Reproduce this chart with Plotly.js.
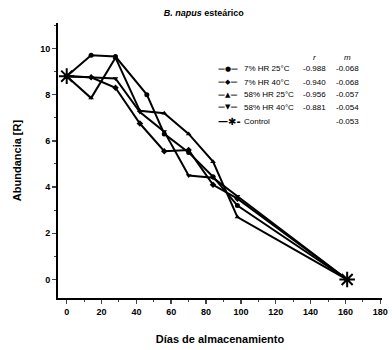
<!DOCTYPE html>
<html><head><meta charset="utf-8">
<script src="https://cdn.plot.ly/plotly-3.0.1.min.js"></script>
<style>html,body{margin:0;padding:0;background:#fff}#c{width:392px;height:350px}</style>
</head><body><div id="c"></div>
<script>
// Data
const seriesNames = ["7% HR 25°C", "7% HR 40°C", "58% HR 25°C", "58% HR 40°C", "Control"];
const days1 = [0, 14, 28, 46, 56, 70, 84, 98, 161];
const vals1 = [8.8, 9.7, 9.65, 8.0, 6.3, 5.5, 4.45, 3.2, 0];
const days2 = [0, 14, 28, 42, 56, 70, 84, 98, 161];
const vals2 = [8.8, 8.75, 8.3, 6.75, 5.55, 5.6, 4.1, 3.5, 0];
const days3 = [0, 14, 28, 42, 56, 70, 84, 98, 161];
const vals3 = [8.8, 7.85, 9.6, 7.3, 7.2, 6.3, 5.1, 2.7, 0];
const days4 = [0, 14, 28, 42, 56, 70, 84, 98, 161];
const vals4 = [8.8, 8.75, 8.7, 7.25, 6.4, 4.5, 4.4, 3.6, 0];
const controlDays = [0, 161];
const controlVals = [8.8, 0];
const rValues = ["-0.988", "-0.940", "-0.956", "-0.881", ""];
const mValues = ["-0.068", "-0.068", "-0.057", "-0.054", "-0.053"];
const xTicks = [0, 20, 40, 60, 80, 100, 120, 140, 160, 180];
const yTicks = [0, 2, 4, 6, 8, 10];

const symbols = ["circle", "diamond", "triangle-up", "triangle-down"];
const keyGlyphs = ["—●—", "—◆—", "—▲—", "—▼—", "—✱-"];
const allDays = [days1, days2, days3, days4];
const allVals = [vals1, vals2, vals3, vals4];
const font = "Liberation Sans, Arial, sans-serif";

const traces = allDays.map((d, i) => ({
  x: d, y: allVals[i], name: seriesNames[i], type: "scatter", mode: "lines+markers",
  line: {color: "#000", width: 2}, marker: {symbol: symbols[i], size: 5, color: "#000"}
}));
traces.push({
  x: controlDays, y: controlVals, name: seriesNames[4], type: "scatter", mode: "markers",
  marker: {symbol: "asterisk-open", size: 13, color: "#000", line: {color: "#000", width: 2}}
});

// legend built as text (rows 13px apart as in the reference); paper coords for a 324px-wide plot
const W = 324, L = 58;
const px = p => (p - L) / W;
const rowY = [0.833, 0.785, 0.739, 0.693, 0.643];
const annotations = [
  {text: "<i>r</i>", x: px(314), y: 0.876, xanchor: "center"},
  {text: "<i>m</i>", x: px(347), y: 0.876, xanchor: "center"}
];
rValues.forEach((v, i) => annotations.push({text: v, x: px(314), y: rowY[i], xanchor: "center"}));
mValues.forEach((v, i) => annotations.push({text: v, x: px(347), y: rowY[i], xanchor: "center"}));
seriesNames.forEach((n, i) => {
  annotations.push({text: n, x: px(242), y: rowY[i], xanchor: "left"});
  annotations.push({text: "<b>" + keyGlyphs[i] + "</b>", x: px(216), y: rowY[i], xanchor: "left",
    font: {family: "DejaVu Sans, sans-serif", size: i === 4 ? 10 : 7, color: "#000"}});
});
annotations.forEach(a => {
  Object.assign(a, {xref: "paper", yref: "paper", showarrow: false, yanchor: "middle"});
  if (!a.font) a.font = {family: font, size: 8, color: "#000"};
});

const layout = {
  width: 392, height: 350,
  margin: {l: L, r: 392 - L - W, t: 23, b: 52},
  paper_bgcolor: "#fff", plot_bgcolor: "#fff",
  title: {text: "<b><i>B. napus</i> esteárico</b>", font: {family: font, size: 9, color: "#000"},
          x: 0.52, xanchor: "center", y: 0.962, yanchor: "middle"},
  xaxis: {range: [-5, 181], tickvals: xTicks, ticktext: xTicks.map(t => "<b>" + t + "</b>"),
          ticks: "outside", ticklen: 4, tickwidth: 1.5, ticklabeloverflow: "allow",
          showgrid: false, zeroline: false, showline: true, linewidth: 2, linecolor: "#000",
          tickfont: {family: font, size: 9, color: "#000"},
          minor: {dtick: 10, tick0: 0, ticks: "outside", ticklen: 2, tickwidth: 1, showgrid: false},
          title: {text: "<b>Días de almacenamiento</b>", font: {family: font, size: 11, color: "#000"}, standoff: 20}},
  yaxis: {range: [-0.8, 11.1], tickvals: yTicks, ticktext: yTicks.map(t => "<b>" + t + "</b>"),
          ticks: "outside", ticklen: 4, tickwidth: 1.5,
          showgrid: false, zeroline: false, showline: true, linewidth: 2, linecolor: "#000",
          tickfont: {family: font, size: 9, color: "#000"},
          minor: {dtick: 1, tick0: 0, ticks: "outside", ticklen: 2, tickwidth: 1, showgrid: false},
          title: {text: "<b>Abundancia [R]</b>", font: {family: font, size: 11, color: "#000"}, standoff: 16}},
  showlegend: false,
  annotations: annotations
};
Plotly.newPlot("c", traces, layout, {displayModeBar: false, staticPlot: true});
</script></body></html>
